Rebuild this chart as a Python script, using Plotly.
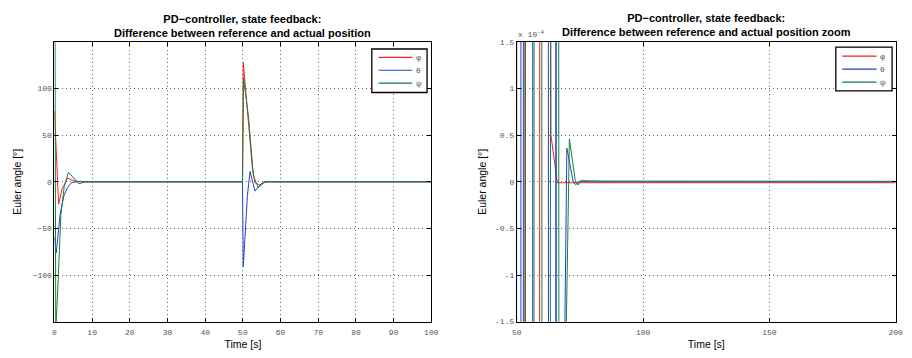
import plotly.graph_objects as go

# ---- data ----
phi_t = [0, 1.1, 2.0, 3.5, 5.0, 6.5, 8.0, 12, 49.9, 50.1, 50.6, 51.5, 52.5, 53.2, 54.5, 55.5,
         56.5, 58.6, 59.6, 61.0, 62.5, 63.5, 64.6, 65.2, 66.0, 80, 200]
phi_v = [76, -24, -8, 4, 1.2, 0.3, -0.3, 0, 0, 128, 104, 69, 16, -1, -3.5, -1,
         -0.01, -0.003, 0.004, 0.003, 0.002, 0.5e-4, 0.27e-4, 0.1e-4, -0.01e-4, -0.01e-4, -0.01e-4]

theta_t = [0, 0.5, 1.5, 2.5, 3.5, 4.5, 6, 8, 49.9, 50.1, 50.6, 51.2, 51.9, 53.2, 54.0, 54.9,
           55.7, 56.5, 58, 60, 62.2, 62.8, 64.5, 65.3, 65.5, 65.7, 67.0, 68.4, 68.9, 69.8,
           72.3, 73.2, 75.0, 78, 200]
theta_v = [-60, -76, -35, -15, -6, -1, 0.3, 0, 0, -91, -57, -15, 11, -10, -6, -2,
           -0.01, 0.004, 0.005, 0.003, 0.002, -0.002, -0.003, -0.002, 0.001, -0.002, -0.001,
           -0.0004, -0.00018, 0.36e-4, 0.0, -0.03e-4, 0.01e-4, 0.0, 0.0]

psi_t = [0, 0.35, 1.0, 1.3, 1.7, 2.6, 3.7, 4.8, 6.1, 6.8, 8, 12, 49.9, 50.2, 51.5, 52.8, 54.1,
         55.0, 55.7, 56.4, 57.2, 58.5, 59.6, 60.2, 62.0, 63.0, 63.6, 65.0, 66.3, 66.9, 68.0,
         68.5, 69.3, 70.8, 73.2, 74.1, 75.6, 85, 200]
psi_v = [400, -160, -105, -64, -36, -5, 10, 5.7, -1, -2, 0.3, 0, 0, 111, 69, 6, -6.3,
         -3, -0.5, -0.004, 0.004, 0.003, 0.002, -0.002, -0.003, -0.002, 0.002, 0.003, 0.002,
         -0.002, -0.002, -0.002, -0.0002, 0.46e-4, 0.0, -0.035e-4, 0.012e-4, 0.008e-4, 0.005e-4]

names = ["\u03c6", "\u03b8", "\u03c8"]
colors = ["#ff1a1a", "#2244c4", "#158040"]

left_xticks = [0, 10, 20, 30, 40, 50, 60, 70, 80, 90, 100]
left_yticks = [-100, -50, 0, 50, 100]
right_xticks = [50, 100, 150, 200]
right_yticks = [-1.5e-4, -1e-4, -0.5e-4, 0, 0.5e-4, 1e-4, 1.5e-4]
right_yticktext = ["-1.5", "-1", "-0.5", "0", "0.5", "1", "1.5"]

series = [(phi_t, phi_v), (theta_t, theta_v), (psi_t, psi_v)]

# figure sized so that, with the page's default 8px body margin, the page is 912x358
OFF = 8
W, H = 912 - 2 * OFF, 358 - 2 * OFF


def px(x):
    return (x - OFF) / W


def py(y):
    return 1 - (y - OFF) / H


fig = go.Figure()
for (t, v), n, c in zip(series, names, colors):
    fig.add_trace(go.Scatter(x=t, y=v, mode="lines", name=n, line=dict(color=c, width=1),
                             xaxis="x", yaxis="y", showlegend=False, hoverinfo="skip"))
for (t, v), n, c in zip(series, names, colors):
    fig.add_trace(go.Scatter(x=t, y=v, mode="lines", name=n, line=dict(color=c, width=1),
                             xaxis="x2", yaxis="y2", showlegend=False, hoverinfo="skip"))

tickfont = dict(family="Liberation Mono", size=8, color="#555555")
labfont = dict(family="Liberation Sans", size=10.5, color="#000000")
common = dict(showgrid=True, griddash="1px,3px", gridcolor="rgba(0,0,0,0.6)", gridwidth=1,
              showline=True, linecolor="black", linewidth=1, mirror="ticks",
              ticks="inside", ticklen=4, tickcolor="black", zeroline=False,
              tickfont=tickfont)

ydom = [py(326), py(38.8)]
fig.update_layout(
    width=W, height=H, autosize=False,
    margin=dict(l=0, r=0, t=0, b=0, pad=0),
    paper_bgcolor="white", plot_bgcolor="white",
    xaxis=dict(domain=[px(50), px(432)], range=[0, 100], tickvals=left_xticks, ticklabelstandoff=3,
               title=dict(text="Time [s]", font=labfont, standoff=5), anchor="y", **common),
    yaxis=dict(domain=ydom, range=[-150, 150], tickvals=left_yticks,
               title=dict(text="Euler angle [\u00b0]", font=labfont, standoff=8), anchor="x", **common),
    xaxis2=dict(domain=[px(518.7), px(902.7)], range=[50, 200], tickvals=right_xticks, ticklabelstandoff=3,
                title=dict(text="Time [s]", font=labfont, standoff=5), anchor="y2", **common),
    yaxis2=dict(domain=ydom, range=[-1.5e-4, 1.5e-4], tickvals=right_yticks,
                ticktext=right_yticktext,
                title=dict(text="Euler angle [\u00b0]", font=labfont, standoff=6), anchor="x2", **common),
    showlegend=False,
    hovermode=False,
)

# ---- compact MATLAB-style legends (boxes, line samples, labels) ----
legend_boxes = [
    dict(x0=371.7, x1=427.7, y0=46, y1=90.7, lx0=378.5, lx1=412.7, tx=419.5, rows=[54.5, 67.8, 81.0]),
    dict(x0=842.0, x1=899.0, y0=44, y1=89.0, lx0=848.5, lx1=883.3, tx=889.8, rows=[53.3, 66.7, 80.0]),
]
for b in legend_boxes:
    fig.add_shape(type="rect", xref="paper", yref="paper",
                  x0=px(b["x0"]), x1=px(b["x1"]), y0=py(b["y1"]), y1=py(b["y0"]),
                  line=dict(color="black", width=1.3), fillcolor="white", layer="above")
    for yy, n, c in zip(b["rows"], names, colors):
        fig.add_shape(type="line", xref="paper", yref="paper",
                      x0=px(b["lx0"]), x1=px(b["lx1"]), y0=py(yy), y1=py(yy),
                      line=dict(color=c, width=1.2), layer="above")
        fig.add_annotation(text=n, x=px(b["tx"]), y=py(yy), xref="paper", yref="paper",
                           xanchor="center", yanchor="middle", showarrow=False,
                           font=dict(family="Liberation Sans", size=8, color="#555555"))

titlefont = dict(family="Liberation Sans", size=11, color="black")
fig.add_annotation(text="<b>PD\u2212controller, state feedback:</b><br><b>Difference between reference and actual position</b>",
                   x=px(241), y=py(22.5), xref="paper", yref="paper",
                   xanchor="center", yanchor="middle", showarrow=False, font=titlefont)
fig.add_annotation(text="<b>PD\u2212controller, state feedback:</b><br><b>Difference between reference and actual position zoom</b>",
                   x=px(710.7), y=py(21.5), xref="paper", yref="paper",
                   xanchor="center", yanchor="middle", showarrow=False, font=titlefont)
fig.add_annotation(text="x 10<sup>-4</sup>", x=px(518), y=py(31), xref="paper", yref="paper",
                   xanchor="left", yanchor="middle", showarrow=False,
                   font=dict(family="Liberation Mono", size=8, color="#555555"))

fig.write_html("out.html", config={"displayModeBar": False, "staticPlot": True})
